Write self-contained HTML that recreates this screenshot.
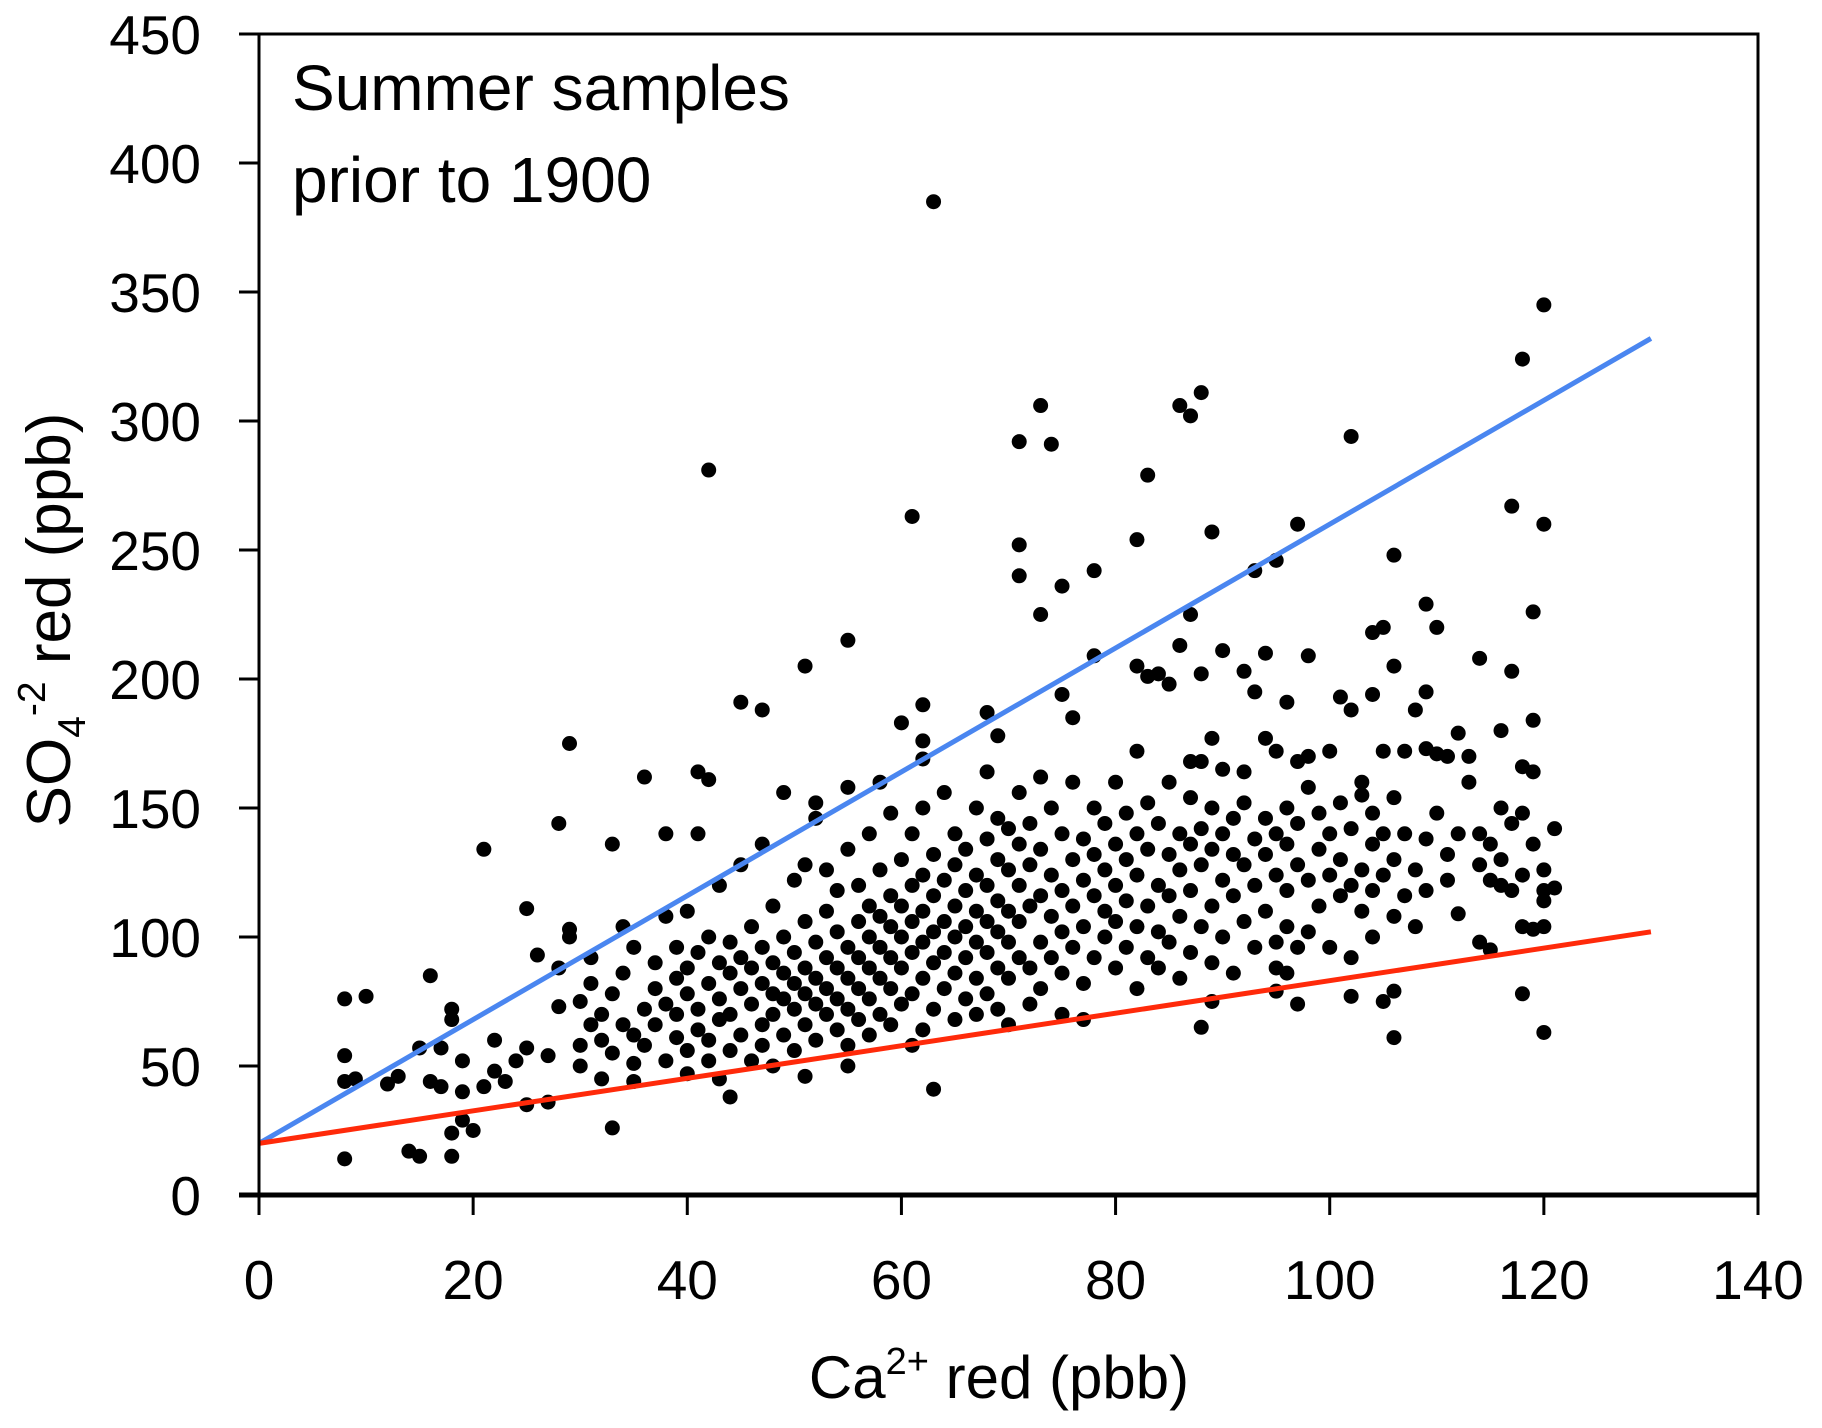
<!DOCTYPE html>
<html><head><meta charset="utf-8"><style>
html,body{margin:0;padding:0;background:#fff;}
svg{display:block;font-family:"Liberation Sans",sans-serif;}
</style></head><body>
<svg id="chart" width="1822" height="1428" viewBox="0 0 1822 1428" xmlns="http://www.w3.org/2000/svg">
<rect x="0" y="0" width="1822" height="1428" fill="#fff"/>
<g id="marks"></g>
<g id="axes"></g>
<text x="292" y="110" font-size="64" fill="#000">Summer samples</text>
<text x="292" y="202" font-size="64" fill="#000">prior to 1900</text>
<text x="999" y="1398" font-size="60" text-anchor="middle" fill="#000">Ca<tspan dy="-24" font-size="38">2+</tspan><tspan dy="24"> red (pbb)</tspan></text>
<text transform="translate(70,620) rotate(-90)" font-size="62" text-anchor="middle" fill="#000">SO<tspan dy="15" font-size="39">4</tspan><tspan dy="-40" font-size="39">-2</tspan><tspan dy="25"> red (ppb)</tspan></text>
</svg>
<script>
const xTicks = [0,20,40,60,80,100,120,140];
const yTicks = [0,50,100,150,200,250,300,350,400,450];
const blueLine = [[0,20],[130,332]];
const redLine = [[0,20],[130,102]];
const samples = [
[63,385],[42,281],[61,263],[73,306],[71,292],[74,291],[86,306],[87,302],[88,311],[83,279],[102,294],[118,324],[120,345],[117,267],[120,260],[97,260],[82,254],[89,257],[71,252],[71,240],[75,236],[73,225],[78,242],[93,242],[95,246],[106,248],[109,229],[110,220],[104,218],[105,220],[98,209],[87,225],[86,213],[82,205],[78,209],[55,215],[51,205],[45,191],[47,188],[29,175],[21,134],[28,144],[36,162],[41,164],[42,161],[68,187],[69,178],[75,194],[76,185],[60,183],[62,190],[62,176],[62,169],[114,208],[117,203],[119,226],[119,184],[119,164],[118,166],[116,180],[112,179],[108,188],[109,195],[104,194],[101,193],[102,188],[106,205],[110,171],[111,170],[113,170],[97,168],[98,170],[100,172],[103,160],[103,155],[104,148],[105,172],[107,172],[109,173],[90,211],[92,203],[93,195],[94,177],[95,172],[94,210],[96,191],[88,202],[89,177],[88,168],[87,168],[90,165],[92,164],[84,202],[85,198],[83,201],
[8,14],[14,17],[15,15],[18,15],[18,24],[19,29],[20,25],[33,26],[44,38],[63,41],[51,46],[43,45],[40,47],[48,50],[55,50],[8,54],[8,76],[10,77],[9,45],[8,44],[12,43],[13,46],[15,57],[16,44],[16,85],[17,57],[18,68],[18,72],[17,42],[19,40],[19,52],[21,42],[22,48],[22,60],[23,44],[24,52],[25,57],[25,35],[25,111],[26,93],[27,36],[27,54],[28,73],[28,88],[29,100],[29,103],[30,75],[30,50],[31,82],[32,45],[33,136],[34,104],[35,44],[35,51],
[106,61],[118,78],[120,63],[105,75],[102,77],[106,79],[88,65],[89,75],[95,79],[97,74],[96,86],[95,98],[112,109],[114,98],[115,95],[120,104],[121,119],[121,142],[120,114],[119,103],[120,126],[117,118],[116,120],
[30,58],[31,66],[31,92],[32,70],[32,60],[33,78],[33,55],[34,66],[34,86],[35,96],[35,62],[36,72],[36,58],[37,80],[37,66],[37,90],[38,52],[38,74],[38,108],[39,61],[39,84],[39,70],[39,96],[38,140],[40,56],[40,78],[40,88],[40,110],[41,64],[41,72],[41,94],[41,140],[42,52],[42,60],[42,82],[42,100],[43,68],[43,76],[43,90],[43,120],[44,56],[44,86],[44,98],[44,70],[45,62],[45,80],[45,92],[45,128],[46,52],[46,74],[46,88],[46,104],[47,58],[47,66],[47,82],[47,96],[47,136],[48,70],[48,78],[48,90],[48,112],[49,62],[49,76],[49,86],[49,100],[49,156],[50,56],[50,72],[50,82],[50,94],[50,122],[51,66],[51,78],[51,88],[51,106],[51,128],[52,60],[52,74],[52,84],[52,98],[52,146],[52,152],[53,70],[53,80],[53,92],[53,110],[53,126],[54,64],[54,76],[54,88],[54,102],[54,118],[55,58],[55,72],[55,84],[55,96],[55,134],[55,158],[56,68],[56,80],[56,92],[56,106],[56,120],[57,62],[57,76],[57,88],[57,100],[57,112],[57,140],[58,70],[58,84],[58,96],[58,108],[58,126],[58,160],[59,66],[59,80],[59,92],[59,104],[59,116],[59,148],[60,74],[60,88],[60,100],[60,112],[60,130],[61,58],[61,78],[61,94],[61,106],[61,120],[61,140],[62,64],[62,84],[62,98],[62,110],[62,124],[62,150],[63,72],[63,90],[63,102],[63,116],[63,132],[64,80],[64,94],[64,106],[64,122],[64,156],[65,68],[65,86],[65,100],[65,112],[65,128],[65,140],[66,76],[66,92],[66,104],[66,118],[66,134],[67,70],[67,84],[67,98],[67,110],[67,124],[67,150],[68,78],[68,94],[68,106],[68,120],[68,138],[68,164],[69,72],[69,88],[69,102],[69,114],[69,130],[69,146],[70,66],[70,84],[70,98],[70,110],[70,126],[70,142],[71,92],[71,106],[71,120],[71,136],[71,156],[72,74],[72,88],[72,112],[72,128],[72,144],[73,80],[73,98],[73,116],[73,134],[73,162],[74,92],[74,108],[74,124],[74,150],[75,70],[75,86],[75,102],[75,118],[75,140],[76,96],[76,112],[76,130],[76,160],[77,82],[77,104],[77,122],[77,138],[77,68],[78,92],[78,116],[78,132],[78,150],[79,100],[79,110],[79,126],[79,144],[80,88],[80,106],[80,120],[80,136],[80,160],[81,96],[81,114],[81,130],[81,148],[82,80],[82,104],[82,124],[82,140],[82,172],[83,92],[83,112],[83,134],[83,152],[84,88],[84,102],[84,120],[84,144],[85,98],[85,116],[85,132],[85,160],[86,84],[86,108],[86,126],[86,140],[87,94],[87,118],[87,136],[87,154],[88,104],[88,128],[88,142],[89,90],[89,112],[89,134],[89,150],[90,100],[90,122],[90,140],[91,86],[91,116],[91,132],[91,146],[92,106],[92,128],[92,152],[93,96],[93,120],[93,138],[94,110],[94,132],[94,146],[95,88],[95,124],[95,140],[96,104],[96,118],[96,136],[96,150],[97,96],[97,128],[97,144],[98,102],[98,122],[98,158],[99,112],[99,134],[99,148],[100,96],[100,124],[100,140],[101,116],[101,130],[101,152],[102,92],[102,120],[102,142],[103,110],[103,126],[104,100],[104,136],[104,118],[105,124],[105,140],[106,108],[106,130],[106,154],[107,116],[107,140],[108,104],[108,126],[109,118],[109,138],[110,148],[111,122],[111,132],[112,140],[113,160],[114,128],[114,140],[115,122],[115,136],[116,150],[116,130],[117,144],[118,124],[118,148],[118,104],[119,136],[120,118]
];

const NS='http://www.w3.org/2000/svg';
const x0=259,x1=1758,yB=1195,yT=34;
function sx(v){return x0+(v-0)/(140-0)*(x1-x0);}
function sy(v){return yB-(v-0)/(450-0)*(yB-yT);}
const marks=document.getElementById('marks');
const axes=document.getElementById('axes');
function mk(tag,attrs,parent){const e=document.createElementNS(NS,tag);for(const k in attrs)e.setAttribute(k,attrs[k]);parent.appendChild(e);return e;}

samples.forEach(function(p){
  const c=mk('circle',{cx:sx(p[0]),cy:sy(p[1]),r:7.5,fill:'#000'},marks);
  
  
});
const bl=mk('line',{x1:sx(blueLine[0][0]),y1:sy(blueLine[0][1]),x2:sx(blueLine[1][0]),y2:sy(blueLine[1][1]),stroke:'#4a86f0','stroke-width':5},marks);


const rl=mk('line',{x1:sx(redLine[0][0]),y1:sy(redLine[0][1]),x2:sx(redLine[1][0]),y2:sy(redLine[1][1]),stroke:'#ff2a0a','stroke-width':5},marks);



const frame=mk('rect',{x:x0,y:yT,width:x1-x0,height:yB-yT,fill:'none',stroke:'#000','stroke-width':3},axes);


const xa=mk('line',{x1:x0-20,y1:yB,x2:x1,y2:yB,stroke:'#000','stroke-width':5},axes);


xTicks.forEach(function(v){
  const t=mk('line',{x1:sx(v),y1:yB,x2:sx(v),y2:yB+20,stroke:'#000','stroke-width':3},axes);
  
  
  const l=mk('text',{x:sx(v),y:1299,'font-size':55,'text-anchor':'middle',fill:'#000'},axes);
  l.textContent=v;
  
  
});
yTicks.forEach(function(v){
  const t=mk('line',{x1:x0-20,y1:sy(v),x2:x0,y2:sy(v),stroke:'#000','stroke-width':3},axes);
  
  
  const l=mk('text',{x:201,y:sy(v)+20,'font-size':55,'text-anchor':'end',fill:'#000'},axes);
  l.textContent=v;
  
  
});
</script>
</body></html>
